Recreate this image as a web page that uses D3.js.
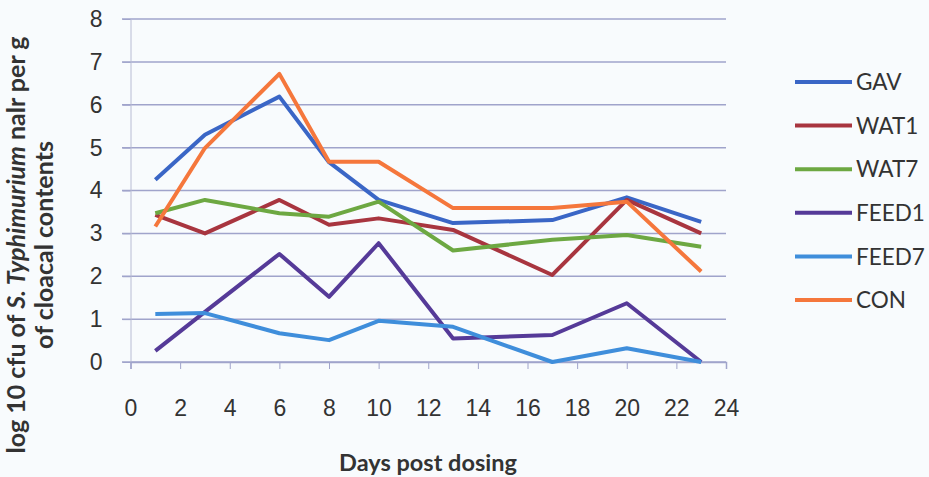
<!DOCTYPE html>
<html lang="en">
<head>
    <meta charset="UTF-8">
    <title>S. Typhimurium cloacal counts</title>
    <script src="https://cdnjs.cloudflare.com/ajax/libs/d3/7.8.5/d3.min.js"></script>
    <style>
        body { margin: 0; background: #f8fbfd; }
        svg { display: block; font-family: Lato, "Open Sans", sans-serif; }
    </style>
</head>
<body>
<div id="chart"></div>
<script>
    // Data
    const days = [1, 3, 6, 8, 10, 13, 17, 20, 23];
    const seriesNames = ["GAV", "WAT1", "WAT7", "FEED1", "FEED7", "CON"];
    const GAV   = [4.25, 5.3, 6.19, 4.66, 3.78, 3.24, 3.31, 3.84, 3.27];
    const WAT1  = [3.43, 3.0, 3.78, 3.2, 3.35, 3.08, 2.03, 3.78, 3.0];
    const WAT7  = [3.47, 3.78, 3.47, 3.39, 3.74, 2.6, 2.85, 2.96, 2.69];
    const FEED1 = [0.26, 1.17, 2.52, 1.52, 2.77, 0.55, 0.63, 1.37, 0.0];
    const FEED7 = [1.12, 1.14, 0.67, 0.51, 0.96, 0.82, 0.0, 0.32, 0.0];
    const CON   = [3.16, 4.99, 6.72, 4.67, 4.67, 3.59, 3.59, 3.74, 2.11];
    const colors = ["#3a66c6", "#a8353f", "#6da842", "#553a98", "#3f8edb", "#f5773c"];

    const values = [GAV, WAT1, WAT7, FEED1, FEED7, CON];
    const series = seriesNames.map((name, i) => ({
        name, color: colors[i],
        points: days.map((d, j) => ({ day: d, value: values[i][j] }))
    }));

    const width = 929, height = 477;
    const svg = d3.select("#chart").append("svg")
        .attr("width", width).attr("height", height);

    const x = d3.scaleLinear().domain([0, 24]).range([130.5, 726]);
    const y = d3.scaleLinear().domain([0, 8]).range([362, 19]);

    // horizontal gridlines
    svg.append("g")
        .selectAll("line")
        .data(d3.range(0, 9))
        .enter().append("line")
        .attr("x1", 122).attr("x2", 726)
        .attr("y1", d => y(d)).attr("y2", d => y(d))
        .attr("stroke", "#a0a4cb").attr("stroke-width", 1.5);

    // y axis
    const yAxis = svg.append("g")
        .attr("transform", `translate(${x(0)},0)`)
        .call(d3.axisLeft(y).ticks(8).tickSize(8).tickPadding(20));
    yAxis.select(".domain").attr("stroke", "#b8bcd4");
    yAxis.selectAll(".tick line").attr("stroke", "#a0a4cb");
    yAxis.selectAll("text").attr("font-size", 23).attr("fill", "#333");

    // x axis
    const xAxis = svg.append("g")
        .attr("transform", `translate(0,${y(0)})`)
        .call(d3.axisBottom(x).tickValues(d3.range(0, 25, 2)).tickSize(7).tickPadding(31));
    xAxis.select(".domain").attr("stroke", "#a0a4cb").attr("stroke-width", 1.5);
    xAxis.selectAll(".tick line").attr("stroke", "#a0a4cb");
    xAxis.selectAll("text").attr("font-size", 23).attr("fill", "#333");

    // lines
    const line = d3.line().x(d => x(d.day)).y(d => y(d.value));
    svg.append("g")
        .selectAll("path")
        .data(series)
        .enter().append("path")
        .attr("d", d => line(d.points))
        .attr("fill", "none")
        .attr("stroke", d => d.color)
        .attr("stroke-width", 4)
        .attr("stroke-linejoin", "round");

    // legend
    const legend = svg.append("g")
        .selectAll("g")
        .data(series)
        .enter().append("g")
        .attr("transform", (d, i) => `translate(795,${82 + i * 43.6})`);
    legend.append("line")
        .attr("x1", 0).attr("x2", 57)
        .attr("stroke", d => d.color).attr("stroke-width", 4);
    legend.append("text")
        .attr("x", 61).attr("dy", "0.36em")
        .attr("font-size", 22.5).attr("fill", "#333")
        .text(d => d.name);

    // axis titles
    svg.append("text")
        .attr("x", 428).attr("y", 471)
        .attr("text-anchor", "middle")
        .attr("font-size", 23.5).attr("font-weight", "bold").attr("fill", "#333")
        .text("Days post dosing");

    const yTitle = svg.append("text")
        .attr("transform", "translate(25,245) rotate(-90)")
        .attr("text-anchor", "middle")
        .attr("font-size", 25).attr("font-weight", "bold").attr("fill", "#333");
    yTitle.append("tspan").attr("x", 0).attr("y", 0).text("log 10 cfu of ");
    yTitle.append("tspan").attr("font-style", "italic").text("S. Typhimurium");
    yTitle.append("tspan").text(" nalr per g");
    yTitle.append("tspan").attr("x", 0).attr("y", 28).text("of cloacal contents");
</script>
</body>
</html>
